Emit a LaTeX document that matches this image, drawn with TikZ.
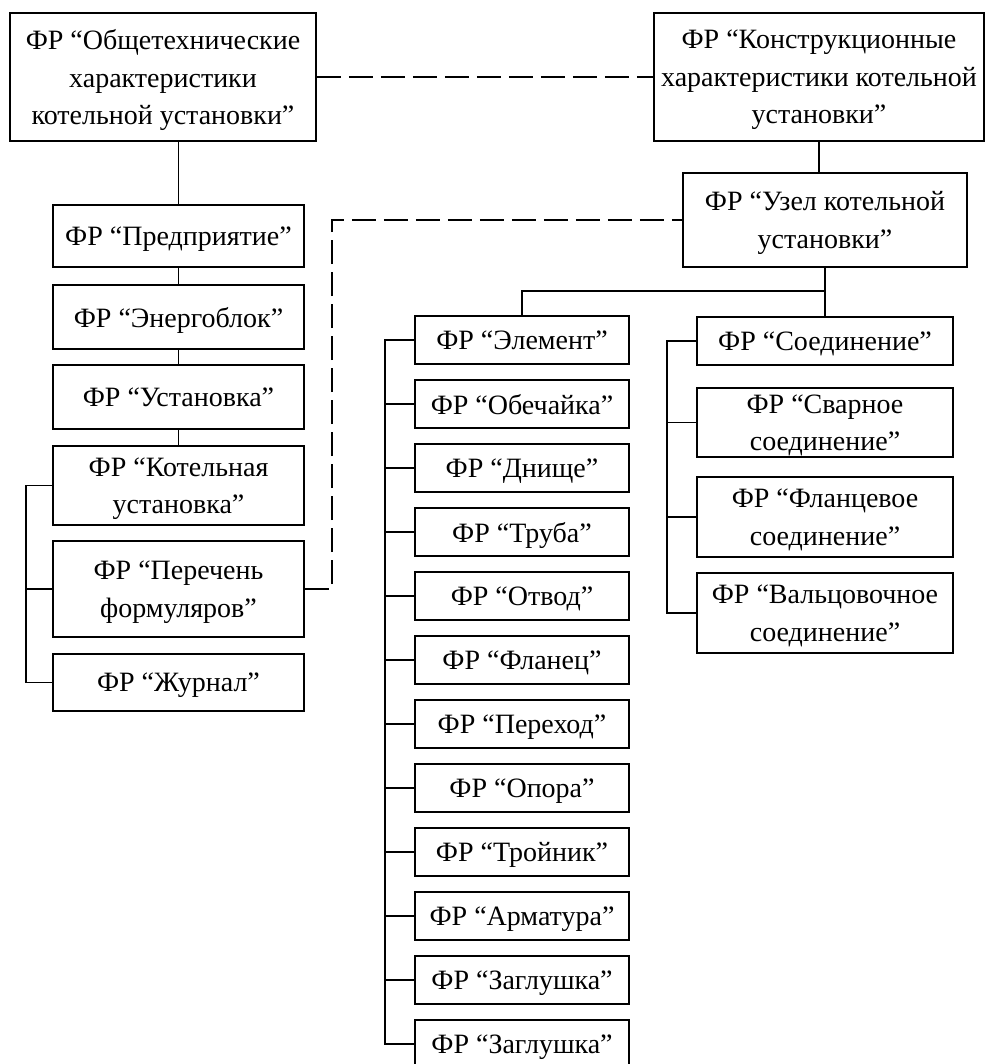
\documentclass[tikz,border=0pt]{standalone}
\usepackage{fontspec}
\setmainfont{Liberation Serif}

\tikzset{
  frbox/.style={draw, line width=0.8pt, align=center, inner sep=0pt, text depth=0pt,
    font=\fontsize{14}{18.75}\selectfont},
  link/.style={line width=0.8pt},
  dlink/.style={line width=0.8pt, dash pattern=on 12pt off 4pt}
}

\begin{document}
\begin{tikzpicture}[x=0.5pt, y=-0.5pt]

  \useasboundingbox (0,0) rectangle (985,1064);

  \node[frbox, minimum width=153pt, minimum height=64pt] (obsh) at (163,77)
    {ФР “Общетехнические\\характеристики\\котельной установки”};
  \node[frbox, minimum width=165pt, minimum height=64pt] (konstr) at (819,77)
    {ФР “Конструкционные\\характеристики котельной\\установки”};
  \node[frbox, minimum width=142pt, minimum height=47pt] (uzel) at (825,220)
    {ФР “Узел котельной\\установки”};

  \draw[dlink] (obsh.east) -- (konstr.west);
  \draw[link] (konstr.south) -- (konstr.south |- uzel.north);

  % left column
  \node[frbox, minimum width=125.5pt, minimum height=31pt] (pred) at (178.5,236) {ФР “Предприятие”};
  \node[frbox, minimum width=125.5pt, minimum height=32pt] (energ) at (178.5,317) {ФР “Энергоблок”};
  \node[frbox, minimum width=125.5pt, minimum height=32pt] (ustan) at (178.5,397) {ФР “Установка”};
  \node[frbox, minimum width=125.5pt, minimum height=39.5pt] (kotel) at (178.5,485.5) {ФР “Котельная\\установка”};
  \node[frbox, minimum width=125.5pt, minimum height=48pt] (perech) at (178.5,589) {ФР “Перечень\\формуляров”};
  \node[frbox, minimum width=125.5pt, minimum height=28.5pt] (zhurn) at (178.5,682.5) {ФР “Журнал”};

  \draw[link] (pred.north) -- (pred.north |- obsh.south);
  \draw[link] (pred.south) -- (energ.north);
  \draw[link] (energ.south) -- (ustan.north);
  \draw[link] (ustan.south) -- (kotel.north);

  \draw[link] (kotel.west) -- ++(-26,0) |- (zhurn.west);
  \draw[link] (perech.west) -- ++(-26,0);

  \draw[dlink] (perech.east) -- ++(27,0) |- (uzel.west);

  % elements
  \foreach \name [count=\i from 0] in {Элемент, Обечайка, Днище, Труба, Отвод, Фланец,
      Переход, Опора, Тройник, Арматура, Заглушка, Заглушка} {
    \node[frbox, minimum width=107pt, minimum height=24pt] (e\i) at (522,340+64*\i) {ФР “\name”};
    \draw[link] (e\i.west) -- ++(-29,0);
  }
  \draw[link] (e0.west) -- ++(-29,0) |- (e11.west);

  % joints
  \node[frbox, minimum width=128pt, minimum height=24pt] (soed) at (825,341) {ФР “Соединение”};
  \node[frbox, minimum width=128pt, minimum height=34.5pt] (svar) at (825,422.5) {ФР “Сварное\\соединение”};
  \node[frbox, minimum width=128pt, minimum height=40pt] (flan) at (825,517) {ФР “Фланцевое\\соединение”};
  \node[frbox, minimum width=128pt, minimum height=40pt] (valc) at (825,613) {ФР “Вальцовочное\\соединение”};

  \draw[link] (soed.west) -- ++(-29,0) |- (valc.west);
  \foreach \n in {svar, flan}
    \draw[link] (\n.west) -- ++(-29,0);

  \coordinate (split) at (uzel.south |- 0,291);
  \draw[link] (uzel.south) -- (soed.north);
  \draw[link] (e0.north) |- (split);

\end{tikzpicture}
\end{document}
